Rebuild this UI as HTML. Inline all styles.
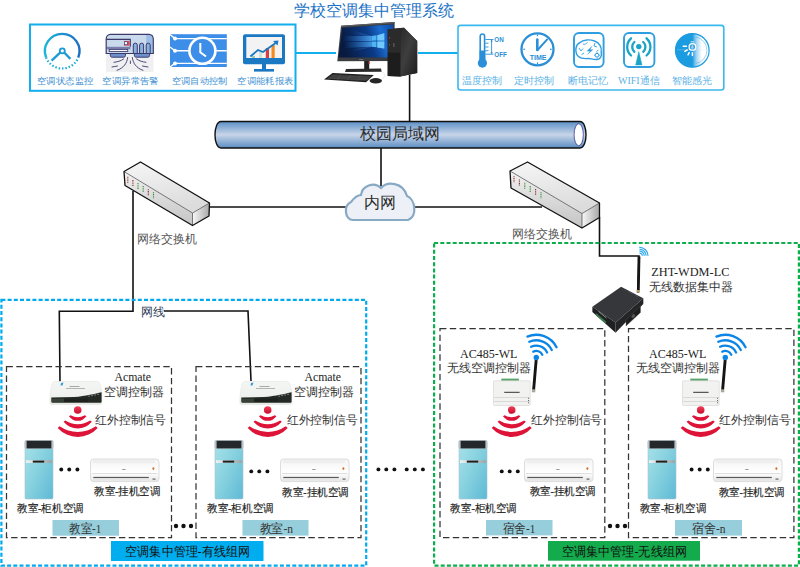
<!DOCTYPE html>
<html><head><meta charset="utf-8">
<style>
html,body{margin:0;padding:0;background:#fff;width:800px;height:567px;overflow:hidden}
svg{display:block}
text{font-family:"Liberation Serif",serif}
.s{font-family:"Liberation Sans",sans-serif}
</style></head><body>
<svg width="800" height="567" viewBox="0 0 800 567">
<defs>
<linearGradient id="pipe" x1="0" y1="0" x2="0" y2="1">
<stop offset="0" stop-color="#5b8fc7"/><stop offset="0.5" stop-color="#c8d5e8"/><stop offset="1" stop-color="#5a8cc3"/>
</linearGradient>
<linearGradient id="towerBody" x1="0" y1="0" x2="1" y2="0.9">
<stop offset="0" stop-color="#a9e2ea"/><stop offset="0.45" stop-color="#8ad3e0"/><stop offset="1" stop-color="#62bcd6"/>
</linearGradient>
<linearGradient id="strip" x1="0" y1="0" x2="1" y2="0">
<stop offset="0" stop-color="#eef4f4"/><stop offset="1" stop-color="#9aa4a8"/>
</linearGradient>
<linearGradient id="irg" x1="0" y1="0" x2="0" y2="1">
<stop offset="0" stop-color="#f0405a"/><stop offset="1" stop-color="#c80d2c"/>
</linearGradient>
<linearGradient id="wallac" x1="0" y1="0" x2="0" y2="1">
<stop offset="0" stop-color="#f4f4f4"/><stop offset="0.6" stop-color="#ffffff"/><stop offset="1" stop-color="#e6e6e6"/>
</linearGradient>
<g id="room">
 <!-- tower AC -->
 <rect x="25" y="440.5" width="28" height="58.5" rx="1.2" fill="url(#towerBody)" stroke="#a8c4cc" stroke-width="0.6"/>
 <rect x="24.6" y="440.2" width="28.8" height="8.6" rx="1.6" fill="#b9c2c6"/>
 <rect x="26.6" y="440.8" width="24.8" height="7.6" fill="#25282b"/>
 <rect x="26" y="460.2" width="26" height="2.8" fill="url(#strip)"/>
 <rect x="32.8" y="460.6" width="11.4" height="2" fill="#1e1e1e"/>
 <!-- wall AC -->
 <rect x="90.5" y="459" width="68.5" height="22.6" rx="3" fill="url(#wallac)" stroke="#d6d6d6" stroke-width="0.8"/>
 <rect x="93" y="460" width="62" height="3.2" fill="#eeeeee"/>
 <line x1="92" y1="473.5" x2="157.5" y2="473.5" stroke="#d2d2d2" stroke-width="0.7"/>
 <rect x="93.3" y="476.9" width="55.5" height="1.2" fill="#5a5a5a"/>
 <rect x="93.3" y="478.1" width="55.5" height="1.5" fill="#e2e2e2"/>
 <rect x="122.3" y="469.1" width="3.2" height="0.9" fill="#8a8a9a"/>
 <ellipse cx="153.4" cy="468.6" rx="1" ry="1.4" fill="#d0702a"/>
 <rect x="152.5" y="478.4" width="3" height="1.4" fill="#777"/>
 <!-- IR signal -->
 <circle cx="77.7" cy="410" r="3.8" fill="url(#irg)"/>
 <g fill="#dd1437">
  <path d="M68.96,416.35 A10.80,10.80 0 0 0 86.44,416.35 L84.82,415.17 A14.78,14.78 0 0 1 70.58,415.17 Z"/>
  <path d="M63.57,421.86 A18.45,18.45 0 0 0 91.83,421.86 L90.15,420.45 A22.77,22.77 0 0 1 65.25,420.45 Z"/>
  <path d="M57.71,428.00 A26.90,26.90 0 0 0 97.69,428.00 L95.83,426.33 A32.28,32.28 0 0 1 59.57,426.33 Z"/>
 </g>
</g>
<g id="router">
 <path d="M54.2,381.5 L97.6,381.5 C99.8,381.5 101.6,389 101.9,392.5 L101.9,402.6 C101.9,404 101.2,404.6 99.8,404.6 L52,404.6 C50.6,404.6 49.8,403.8 49.8,402.3 L49.9,397 C50.5,390 52,381.5 54.2,381.5 Z" fill="url(#rtop)" stroke="#dfe3df" stroke-width="0.5"/>
 <path d="M51.3,397.6 L74,397.1 C86,396 95,393.6 101.6,392.2 L101.6,401.4 C101.6,402.3 101,402.7 100.2,402.7 L52.3,402.7 C51.6,402.7 51.3,402.2 51.3,401.6 Z" fill="#252a25"/>
 <rect x="52" y="398.8" width="12" height="3.2" fill="#3b463b" opacity="0.8"/>
 <rect x="64.5" y="398.6" width="24" height="3.4" fill="#1e221e"/>
 <g fill="#ccc"><rect x="88.6" y="395.6" width="0.9" height="1.1"/><rect x="91.6" y="395" width="0.9" height="1.1"/><rect x="94.6" y="394.4" width="0.9" height="1.1"/><rect x="97.6" y="393.8" width="0.9" height="1.1"/></g>
 <rect x="69.5" y="386" width="10" height="0.7" fill="#888"/>
 <rect x="66" y="388" width="19" height="0.7" fill="#999"/>
 <path d="M61,383 L63.5,382.5 L62.5,385.5 L60.5,385.5 Z" fill="#3a9ad8"/>
</g>
<g id="ctrl">
 <rect x="501.3" y="378.6" width="17.6" height="2.4" fill="#5aa46a"/>
 <rect x="493.5" y="380.8" width="36.7" height="24.7" rx="1" fill="#f2f2f0" stroke="#d4d4d0" stroke-width="0.6"/>
 <line x1="494" y1="397.5" x2="530" y2="397.5" stroke="#cfcfcb" stroke-width="0.7"/>
 <line x1="494" y1="401.5" x2="530" y2="401.5" stroke="#cfcfcb" stroke-width="0.7"/>
 <rect x="504.2" y="391.8" width="15.4" height="1" fill="#333"/>
 <g fill="#666"><rect x="528" y="397.8" width="1" height="1"/><rect x="528" y="400" width="1" height="1"/><rect x="528" y="402.3" width="1" height="1"/></g>
 <line x1="536.2" y1="359.5" x2="533.6" y2="390" stroke="#151515" stroke-width="2.9"/>
 <rect x="531.9" y="389.3" width="3.4" height="3" fill="#a9a99a"/>
 <circle cx="536.3" cy="357.5" r="2.7" fill="#0b86e6"/>
 <g fill="none" stroke="#0b86e6" stroke-width="2.3" stroke-linecap="round">
  <path d="M533.20,351.67 A6.6,6.6 0 0 1 542.28,354.71"/><path d="M531.08,346.80 A11.9,11.9 0 0 1 547.09,352.47"/><path d="M529.30,341.79 A17.2,17.2 0 0 1 551.76,349.96"/><path d="M527.43,336.60 A22.7,22.7 0 0 1 556.53,347.19"/>
 </g>
 <text x="460" y="357.5" font-size="12" fill="#222">AC485-WL</text>
 <text x="447" y="372.4" font-size="11.8" fill="#333">无线空调控制器</text>
</g>
<linearGradient id="scr" x1="0" y1="0.2" x2="1" y2="0">
<stop offset="0" stop-color="#081a40"/><stop offset="0.5" stop-color="#0b3a86"/><stop offset="0.75" stop-color="#1a6cd0"/><stop offset="1" stop-color="#0d4aa8"/>
</linearGradient>
<linearGradient id="ray" x1="0" y1="0" x2="1" y2="0">
<stop offset="0" stop-color="#2a86e8" stop-opacity="0"/><stop offset="1" stop-color="#5ab8ff" stop-opacity="1"/>
</linearGradient>
<linearGradient id="side" x1="0" y1="0" x2="1" y2="1">
<stop offset="0" stop-color="#2a2a2a"/><stop offset="0.45" stop-color="#3e3e3e"/><stop offset="1" stop-color="#1c1c1c"/>
</linearGradient>
<radialGradient id="win" cx="0.75" cy="0.45" r="0.5">
<stop offset="0" stop-color="#8fd3ff"/><stop offset="0.5" stop-color="#2a8ae8"/><stop offset="1" stop-color="#0d4aa0" stop-opacity="0"/>
</radialGradient>
<linearGradient id="gauge" x1="0" y1="0" x2="1" y2="0">
<stop offset="0" stop-color="#19b5d8"/><stop offset="1" stop-color="#1d6fc4"/>
</linearGradient>
<linearGradient id="lightc" x1="0" y1="0" x2="1" y2="0">
<stop offset="0" stop-color="#1b9be0"/><stop offset="0.5" stop-color="#1b9be0"/><stop offset="0.62" stop-color="#9fd2f2"/><stop offset="0.78" stop-color="#ffffff"/><stop offset="1" stop-color="#ffffff"/>
</linearGradient>
<linearGradient id="swtop" x1="0" y1="0" x2="0.3" y2="1">
<stop offset="0" stop-color="#f6f6f6"/><stop offset="1" stop-color="#dcdcdc"/>
</linearGradient>
<linearGradient id="swfront" x1="0" y1="0" x2="0" y2="1">
<stop offset="0" stop-color="#f2f2f2"/><stop offset="0.4" stop-color="#dedede"/><stop offset="1" stop-color="#c4c4c4"/>
</linearGradient>
<linearGradient id="swright" x1="0" y1="0" x2="1" y2="0">
<stop offset="0" stop-color="#f8f8f8"/><stop offset="1" stop-color="#a8a8a8"/>
</linearGradient>
<linearGradient id="rtop" x1="0" y1="0" x2="0" y2="1">
<stop offset="0" stop-color="#f4f6f4"/><stop offset="0.6" stop-color="#eef1ee"/><stop offset="1" stop-color="#e4e7e4"/>
</linearGradient>
</defs>

<!-- ===== TITLE ===== -->
<text id="title" x="294" y="16.4" class="s" font-size="16" fill="#1b72c6">学校空调集中管理系统</text>

<!-- left feature box -->
<rect x="30" y="24.5" width="265.5" height="66.3" fill="none" stroke="#12aeee" stroke-width="2"/>
<line x1="296" y1="53" x2="336" y2="53" stroke="#12aeee" stroke-width="2"/>
<line x1="418" y1="53" x2="458" y2="53" stroke="#12aeee" stroke-width="2"/>
<!-- right feature box -->
<rect x="458" y="25.4" width="265.8" height="64.6" rx="2.5" fill="none" stroke="#3ab8f0" stroke-width="1.6"/>

<!-- black lines -->
<g stroke="#111" stroke-width="1.6" fill="none">
<line x1="409.6" y1="75" x2="409.6" y2="121"/>
<line x1="381" y1="148" x2="381" y2="186"/>
<line x1="209" y1="207" x2="346" y2="207"/>
<line x1="414" y1="207" x2="542" y2="207"/>
<polyline points="133,191 133,311.3 59.3,311.3 60,381.5"/>
<polyline points="164,311 248,311 251,381"/>
<polyline points="599.5,217 599.5,256 639,256 638,293"/>
</g>

<!-- pipe -->
<path d="M221,121.5 L580,121.5 C588,121.5 588,148 580,148 L221,148 C213,148 213,121.5 221,121.5 Z" fill="url(#pipe)" stroke="#111" stroke-width="1.4"/>
<ellipse cx="578.7" cy="134.7" rx="4.6" ry="11" fill="#fff" stroke="#3a3a8a" stroke-width="0.8"/>
<text x="360" y="139" class="s" font-size="16" fill="#2a2a2a">校园局域网</text>

<!-- cloud -->
<path d="M353,220 C345,220 343,206 351,202 C354,198 358,195 361,195 C362,186 374,181 381,188 C387,181 403,182 407,196 C415,199 418,216 408,220 Z" fill="#edf1f7" stroke="#88a9c4" stroke-width="2.2"/>
<text x="364" y="207.5" class="s" font-size="16" fill="#2a2a2a">内网</text>

<!-- switches -->
<path d="M124.0,171.5 L140.5,162.0 L209.5,203.0 L192.5,213.0 Z" fill="url(#swtop)"/>
<path d="M124.0,171.5 L192.5,213.0 L192.5,225.5 L125.0,185.5 Z" fill="url(#swfront)"/>
<path d="M192.5,213.0 L209.5,203.0 L209.0,216.0 L192.5,225.5 Z" fill="url(#swright)"/>
<path d="M124.0,171.5 L192.5,213.0 L209.5,203.0 M192.5,213.0 L192.5,225.5" fill="none" stroke="#444" stroke-width="0.7"/>
<path d="M124.0,171.5 L140.5,162.0 L209.5,203.0 L209.0,216.0 L192.5,225.5 L125.0,185.5 Z" fill="none" stroke="#111" stroke-width="1.3" stroke-linejoin="round"/>
<g stroke-width="1.1" stroke-dasharray="1 0.7">
<line x1="127.8" y1="176.8" x2="127.8" y2="182.8" stroke="#8a2626"/>
<line x1="132.9" y1="179.9" x2="132.9" y2="185.9" stroke="#8a2626"/>
<line x1="138.0" y1="183.0" x2="138.0" y2="189.0" stroke="#2e8a2e"/>
<line x1="143.2" y1="186.1" x2="143.2" y2="192.1" stroke="#2e8a2e"/>
<line x1="148.3" y1="189.2" x2="148.3" y2="195.2" stroke="#8a2626"/>
<line x1="153.5" y1="192.3" x2="153.5" y2="198.3" stroke="#2e8a2e"/>
</g>
<path d="M510.0,171.0 L527.5,162.0 L599.5,203.0 L582.0,213.5 Z" fill="url(#swtop)"/>
<path d="M510.0,171.0 L582.0,213.5 L582.0,228.0 L511.0,188.0 Z" fill="url(#swfront)"/>
<path d="M582.0,213.5 L599.5,203.0 L599.5,217.5 L582.0,228.0 Z" fill="url(#swright)"/>
<path d="M510.0,171.0 L582.0,213.5 L599.5,203.0 M582.0,213.5 L582.0,228.0" fill="none" stroke="#444" stroke-width="0.7"/>
<path d="M510.0,171.0 L527.5,162.0 L599.5,203.0 L599.5,217.5 L582.0,228.0 L511.0,188.0 Z" fill="none" stroke="#111" stroke-width="1.3" stroke-linejoin="round"/>
<g stroke-width="1.1" stroke-dasharray="1 0.7">
<line x1="514.0" y1="176.3" x2="514.0" y2="182.3" stroke="#8a2626"/>
<line x1="519.4" y1="179.5" x2="519.4" y2="185.5" stroke="#8a2626"/>
<line x1="524.8" y1="182.7" x2="524.8" y2="188.7" stroke="#2e8a2e"/>
<line x1="530.2" y1="185.9" x2="530.2" y2="191.9" stroke="#2e8a2e"/>
<line x1="535.6" y1="189.1" x2="535.6" y2="195.1" stroke="#8a2626"/>
<line x1="541.0" y1="192.3" x2="541.0" y2="198.3" stroke="#2e8a2e"/>
</g>
<text x="137" y="243" font-size="12" fill="#555">网络交换机</text>
<text x="512" y="238" font-size="12" fill="#555">网络交换机</text>

<!-- wired big box -->
<rect x="1.4" y="299.8" width="364.8" height="265.9" fill="none" stroke="#00aaee" stroke-width="2.2" stroke-dasharray="4 2.2"/>
<rect x="434.1" y="243" width="364.8" height="322.6" fill="none" stroke="#0cae4c" stroke-width="2.2" stroke-dasharray="4 2.2"/>
<!-- inner dashed boxes -->
<g fill="none" stroke="#333" stroke-width="1.25" stroke-dasharray="6.4 3.4">
<rect x="6.5" y="366.5" width="165" height="171"/>
<rect x="196" y="366.5" width="165" height="171"/>
<rect x="440" y="328.5" width="164.8" height="209"/>
<rect x="628.5" y="328.5" width="165.4" height="209"/>
</g>
<text x="141" y="315.5" font-size="12" fill="#2d3b55">网线</text>

<!-- bars -->
<rect x="111" y="541" width="152.5" height="20" fill="#00aeef"/>
<rect x="548" y="541" width="152" height="19.7" fill="#13ab4c"/>
<rect x="52.5" y="520" width="66.5" height="15.7" fill="#96cedc"/>
<rect x="242.5" y="520" width="66" height="15.6" fill="#96cedc"/>
<rect x="486" y="520" width="66.5" height="15.4" fill="#96cedc"/>
<rect x="675" y="520" width="67" height="15.6" fill="#96cedc"/>

<!-- rooms -->
<use href="#room"/>
<use href="#room" x="190"/>
<use href="#room" x="434"/>
<use href="#room" x="623"/>
<!-- room dots & labels -->
<g fill="#111">
<circle cx="61.25" cy="469.5" r="1.95"/><circle cx="69.25" cy="469.5" r="1.95"/><circle cx="77.4" cy="469.5" r="1.95"/>
<circle cx="251.25" cy="471.4" r="1.95"/><circle cx="259.25" cy="471.4" r="1.95"/><circle cx="267.4" cy="471.4" r="1.95"/>
<circle cx="501.75" cy="471.4" r="1.95"/><circle cx="509.7" cy="471.4" r="1.95"/><circle cx="517.8" cy="471.4" r="1.95"/>
<circle cx="691.6" cy="469.5" r="1.95"/><circle cx="699.7" cy="469.5" r="1.95"/><circle cx="707.8" cy="469.5" r="1.95"/>
</g>
<g font-size="12" fill="#333">
<text x="95.1" y="424" textLength="71" lengthAdjust="spacingAndGlyphs">红外控制信号</text>
<text x="286.9" y="424" textLength="70.5" lengthAdjust="spacingAndGlyphs">红外控制信号</text>
<text x="531.2" y="424" textLength="71" lengthAdjust="spacingAndGlyphs">红外控制信号</text>
<text x="719.2" y="424" textLength="71.2" lengthAdjust="spacingAndGlyphs">红外控制信号</text>
</g>
<g font-size="10.5" fill="#222" stroke="#222" stroke-width="0.15">
<text x="94" y="495.3" textLength="66.5" lengthAdjust="spacingAndGlyphs">教室-挂机空调</text>
<text x="282" y="495.8" textLength="67" lengthAdjust="spacingAndGlyphs">教室-挂机空调</text>
<text x="529.6" y="495.2" textLength="66.4" lengthAdjust="spacingAndGlyphs">教室-挂机空调</text>
<text x="718.6" y="496" textLength="66.4" lengthAdjust="spacingAndGlyphs">教室-挂机空调</text>
<text x="17" y="511.5" textLength="66.6" lengthAdjust="spacingAndGlyphs">教室-柜机空调</text>
<text x="207" y="511.5" textLength="66.6" lengthAdjust="spacingAndGlyphs">教室-柜机空调</text>
<text x="450.4" y="511.5" textLength="66.6" lengthAdjust="spacingAndGlyphs">教室-柜机空调</text>
<text x="640" y="511.5" textLength="66" lengthAdjust="spacingAndGlyphs">教室-柜机空调</text>
</g>

<!-- dots between -->
<g fill="#111">
<circle cx="176" cy="526" r="2.2"/><circle cx="183.5" cy="526" r="2.2"/><circle cx="191" cy="526" r="2.2"/>
<circle cx="610" cy="526" r="2.2"/><circle cx="617.5" cy="526" r="2.2"/><circle cx="625" cy="526" r="2.2"/>
<circle cx="378.4" cy="469.4" r="1.95"/><circle cx="386.3" cy="469.4" r="1.95"/><circle cx="394.4" cy="469.4" r="1.95"/>
<circle cx="406.7" cy="469.4" r="1.95"/><circle cx="414.8" cy="469.4" r="1.95"/><circle cx="422.9" cy="469.4" r="1.95"/>
</g>
<!-- bar labels -->
<text x="69" y="533" font-size="12.5" textLength="32.3" lengthAdjust="spacingAndGlyphs" fill="#333">教室-1</text>
<text x="259.5" y="533" font-size="12.5" textLength="33.5" lengthAdjust="spacingAndGlyphs" fill="#333">教室-n</text>
<text x="502.8" y="533" font-size="12.5" textLength="32.5" lengthAdjust="spacingAndGlyphs" fill="#333">宿舍-1</text>
<text x="692" y="533" font-size="12.5" textLength="33.5" lengthAdjust="spacingAndGlyphs" fill="#333">宿舍-n</text>
<text x="125.4" y="556" font-size="13" textLength="124.4" lengthAdjust="spacingAndGlyphs" fill="#111">空调集中管理-有线组网</text>
<text x="561.9" y="556" font-size="13" textLength="124.9" lengthAdjust="spacingAndGlyphs" fill="#111">空调集中管理-无线组网</text>

<!-- routers -->
<use href="#router"/>
<use href="#router" x="190"/>
<text x="114.4" y="381" font-size="11.8" fill="#222">Acmate</text>
<text x="103.6" y="396.4" font-size="11.8" fill="#333">空调控制器</text>
<text x="304.4" y="381" font-size="11.8" fill="#222">Acmate</text>
<text x="293.6" y="396.4" font-size="11.8" fill="#333">空调控制器</text>
<!-- wireless controllers -->
<use href="#ctrl"/>
<use href="#ctrl" x="189"/>
<!-- concentrator -->
<g>
 <line x1="639" y1="256.5" x2="638.3" y2="292" stroke="#151515" stroke-width="2.8"/>
 <rect x="636.6" y="290" width="3.4" height="2.6" fill="#b9a27a"/>
 <path d="M592.4,306.7 L621.1,286.7 L643.3,298.3 L615.6,322.5 Z" fill="#35373a"/>
 <path d="M592.4,306.7 L615.6,322.5 L615.6,332.8 L592.4,312 Z" fill="#1f2022"/>
 <path d="M615.6,322.5 L643.3,298.3 L643.3,304 L615.6,332.8 Z" fill="#242527"/>
 <path d="M626,320 L640.5,306 L640.5,312.5 L626,326 Z" fill="#1d1d1e" stroke="#555" stroke-width="0.4"/>
 <ellipse cx="633.3" cy="316" rx="2.2" ry="1.5" fill="#555" transform="rotate(-45 633.3 316)"/>
 <path d="M596,313 L606,321.6 L606,324 L596,315.4 Z" fill="#3d7a48"/>
 <path d="M598.5,311.5 L606.5,318 " stroke="#bbb" stroke-width="0.7"/>
 <path d="M628,291 L633,294 M635,295 L638,297" stroke="#666" stroke-width="0.5"/>
 <g fill="none" stroke="#2aa6ee" stroke-width="1.15">
  <path d="M639.51,253.10 A2.7,2.7 0 0 1 642.30,255.80"/><path d="M639.44,251.20 A4.6,4.6 0 0 1 644.20,255.80"/><path d="M639.37,249.30 A6.5,6.5 0 0 1 646.10,255.80"/><path d="M639.31,247.41 A8.4,8.4 0 0 1 648.00,255.80"/>
 </g>
</g>
<text x="651.25" y="276.2" font-size="12.3" fill="#222">ZHT-WDM-LC</text>
<text x="648.75" y="291.4" font-size="11.8" fill="#333">无线数据集中器</text>

<!-- computer -->
<g>
 <path d="M341,25.8 L394.6,22 L394.6,61 L337.3,61.3 Z" fill="#3b3d40"/>
 <path d="M341,25.8 L394.6,22 L394.6,23.2 L341,27 Z" fill="#5a5c5f"/>
 <path d="M342.3,27.8 L393,24.5 L393,57.5 L338.5,57.6 Z" fill="url(#scr)"/>
 <path d="M345,36 L371.5,36 L371.5,41 L343,41 Z" fill="url(#ray)" opacity="0.75"/>
 <path d="M346,42 L371.5,41.6 L371.5,46.8 L344,48 Z" fill="url(#ray)" opacity="0.7"/>
 <path d="M352,30 L371.5,36 L352,35 Z" fill="url(#ray)" opacity="0.35"/>
 <path d="M352,52 L371.5,46.8 L352,49 Z" fill="url(#ray)" opacity="0.35"/>
 <path d="M371.5,36 L376.5,35.3 L376.5,40.6 L371.5,40.8 Z M377.3,35.2 L384.3,33.2 L384.3,40.4 L377.3,40.6 Z M371.5,41.6 L376.5,41.5 L376.5,47.3 L371.5,46.8 Z M377.3,41.5 L384.3,41.4 L384.3,48.5 L377.3,47.4 Z" fill="#4db4f6"/>
 <path d="M377.3,35.2 L384.3,33.2 L384.3,40.4 L377.3,40.6 Z M377.3,41.5 L384.3,41.4 L384.3,48.5 L377.3,47.4 Z" fill="#7fd0ff" opacity="0.7"/>
 <rect x="359" y="59" width="4" height="0.9" fill="#777"/>
 <rect x="364.2" y="61" width="5" height="8" fill="#202020"/>
 <rect x="368.3" y="61.5" width="1.3" height="2.6" fill="#b02a2a"/>
 <path d="M346,69 L381,68.6 L381.7,71.8 L345,72 Z" fill="#2a2a2a"/>
 <path d="M324,79.5 L332.5,73 L373.8,75 L366,82.3 Z" fill="#1f1f1f"/>
 <path d="M327,78.8 L333.3,74.2 L371.6,75.9 L365.5,81 Z" fill="#3c3c3c" opacity="0.8"/>
 <g stroke="#777" stroke-width="0.35" opacity="0.8"><line x1="331" y1="75.6" x2="371" y2="77.2"/><line x1="329.5" y1="76.9" x2="369.6" y2="78.5"/><line x1="328" y1="78.2" x2="368" y2="79.8"/><line x1="341" y1="74.5" x2="337" y2="80"/><line x1="351" y1="74.9" x2="347" y2="80.4"/><line x1="361" y1="75.4" x2="357" y2="80.8"/></g>
 <ellipse cx="375.8" cy="80.8" rx="6.2" ry="2.7" fill="#262626"/>
 <path d="M382,72 C386,74 386,77 382,79" stroke="#ddd" stroke-width="0.6" fill="none"/>
 <path d="M387.7,29.6 L400.3,27.9 L404,27.8 L417.2,40.9 L417.2,73 L400.3,76.4 L387.7,75.9 Z" fill="#262626"/>
 <path d="M400.3,27.9 L404,27.8 L417.2,40.9 L417.2,73 L400.3,76.4 Z" fill="url(#side)"/>
 <path d="M387.7,29.6 L400.3,27.9 L400.3,52.7 L387.7,52.7 Z" fill="#2b2b2b"/>
 <path d="M387.7,52.7 L400.3,52.7 L400.3,76.4 L387.7,75.9 Z" fill="#1d1d1d"/>
 <rect x="389.2" y="37" width="0.9" height="1.6" fill="#c33"/>
 <rect x="393.5" y="43" width="0.8" height="4" fill="#777"/>
 <rect x="389" y="44" width="0.8" height="1.4" fill="#666"/>
</g>
<!-- ===== left icons ===== -->
<g>
 <!-- gauge -->
 <path d="M46.1,57.5 A17.3,17.3 0 1 1 78.3,57.5" fill="none" stroke="url(#gauge)" stroke-width="2.4"/>
 <path d="M46.1,57.5 A17.3,17.3 0 0 0 78.3,57.5" fill="none" stroke="#22b0d8" stroke-width="2.3" stroke-dasharray="1.5 1.9"/>
 <path d="M51.6,60.6 L60.4,52.3 M64.2,52.5 L70.4,58.9" stroke="#1c9bd6" stroke-width="2.3" fill="none"/>
 <circle cx="62.3" cy="50.8" r="2.5" fill="#fff" stroke="#1c9bd6" stroke-width="1.8"/>
 <!-- AC alarm -->
 <rect x="106" y="52" width="47.5" height="20" fill="#f0f0f2"/>
 <path d="M110.5,34.3 L149,34.3 C151.5,34.3 153.3,36.3 153.3,39 L153.3,53.5 L106.2,53.5 L106.2,39 C106.2,36.3 108,34.3 110.5,34.3 Z" fill="#c9daec"/>
 <rect x="146.2" y="34.8" width="6.6" height="18.4" fill="#9dbde5"/>
 <rect x="106.6" y="46.8" width="23.7" height="2.4" fill="#7b7fae"/>
 <path d="M106.2,39.4 L130.3,39.4 L130.3,46.8" fill="none" stroke="#3c3a6a" stroke-width="1.1"/>
 <rect x="109.2" y="49.4" width="18.5" height="2" fill="#fff" stroke="#3c3a6a" stroke-width="0.9"/>
 <rect x="124" y="40.9" width="5.6" height="4.8" fill="#d9485a"/>
 <rect x="124.4" y="41.8" width="2.9" height="2.9" fill="#fff" stroke="#3c3a6a" stroke-width="0.6"/>
 <g fill="#8ab0e0" stroke="#3c3a6a" stroke-width="1"><path d="M133.3,53.5 L133.3,45.1 A2,2 0 0 1 137.3,45.1 L137.3,53.5"/><path d="M139.6,53.5 L139.6,45.1 A2,2 0 0 1 143.6,45.1 L143.6,53.5"/><path d="M146.2,53.5 L146.2,45.1 A2,2 0 0 1 150.2,45.1 L150.2,53.5"/></g>
 <path d="M110.5,34.3 L149,34.3 C151.5,34.3 153.3,36.3 153.3,39 L153.3,53.5 L106.2,53.5 L106.2,39 C106.2,36.3 108,34.3 110.5,34.3 Z" fill="none" stroke="#3c3a6a" stroke-width="1.2"/>
 <path d="M110.3,53.5 L125.5,53.5 L125.5,55.5 C125.5,56.6 124.8,57.2 123.6,57.2 L112.2,57.2 C111,57.2 110.3,56.6 110.3,55.5 Z M134.4,53.5 L149.6,53.5 L149.6,55.5 C149.6,56.6 148.9,57.2 147.7,57.2 L136.3,57.2 C135.1,57.2 134.4,56.6 134.4,55.5 Z" fill="#6e90cc" stroke="#3c3a6a" stroke-width="1"/>
 <g stroke="#3c3a6a" stroke-width="0.9" fill="none" stroke-linecap="round">
  <path d="M123.6,59 C121,61 117,62 114,62.3"/><path d="M117.5,66 C116,66.3 114,66.7 112,67"/><path d="M127.7,57.5 C127,63 124,68 117,70.3"/><path d="M130.4,61 L130.4,63.5"/>
  <path d="M136.5,59 C139,61 143,62 146,62.3"/><path d="M142.5,66 C144,66.3 146,66.7 148,67"/><path d="M132.3,57.5 C133,63 136,68 143,70.3"/>
 </g>
 <!-- auto control -->
 <rect x="170" y="34.2" width="56.8" height="32.8" fill="#3d8ee8"/>
 <g stroke="#fff" stroke-width="1.4"><line x1="175" y1="38.6" x2="226.8" y2="38.6"/><line x1="175" y1="50.8" x2="226.8" y2="50.8"/><line x1="175" y1="63.4" x2="226.8" y2="63.4"/>
 <path d="M170,34.5 L175,38.6 M170,47 L175,50.8 M170,67 L175,63.4" /></g>
 <g fill="#fff"><circle cx="175" cy="38.6" r="2"/><circle cx="175" cy="50.8" r="2"/><circle cx="175" cy="63.4" r="2"/></g>
 <circle cx="202.4" cy="50.8" r="13" fill="#3d8ee8" stroke="#fff" stroke-width="2.6"/>
 <path d="M200.3,43 L200.3,52.2 L206,56.5" stroke="#fff" stroke-width="2" fill="none"/>
 <!-- report monitor -->
 <rect x="243" y="34.2" width="42" height="30" rx="2" fill="#1b78c2"/>
 <rect x="246.3" y="37" width="35.7" height="21" fill="#f3f3f3"/>
 <rect x="262" y="64" width="4" height="5" fill="#1b78c2"/>
 <rect x="254" y="69" width="20" height="2.6" fill="#1b78c2"/>
 <rect x="259" y="51.5" width="3" height="6.5" fill="#cfe3d6"/>
 <rect x="265.8" y="48" width="3.2" height="10" fill="#e03a3a"/>
 <rect x="271.5" y="45" width="3.2" height="13" fill="#f28a1e"/>
 <path d="M250.4,56.5 L258,50 L263,52 L277,42" stroke="#1b78c2" stroke-width="1.8" fill="none"/>
 <path d="M273,41 L278.5,40.5 L277.5,45.5 Z" fill="#1b78c2"/>
 <rect x="252" y="56" width="3" height="2" fill="#9ccab0"/>
</g>
<g font-size="9.4" fill="#3d90d2" class="s" lengthAdjust="spacingAndGlyphs">
 <text x="37" y="84.1" textLength="56.3" lengthAdjust="spacingAndGlyphs">空调状态监控</text>
 <text x="102.2" y="84.1" textLength="56.7" lengthAdjust="spacingAndGlyphs">空调异常告警</text>
 <text x="172" y="84.1" textLength="55.3" lengthAdjust="spacingAndGlyphs">空调自动控制</text>
 <text x="237.4" y="84.1" textLength="55.7" lengthAdjust="spacingAndGlyphs">空调能耗报表</text>
</g>
<!-- ===== right icons ===== -->
<g>
 <!-- thermometer -->
 <path d="M480.2,36.2 A2.2,2.2 0 0 1 484.6,36.2 L484.6,60 L480.2,60 Z" fill="#fff" stroke="#2a8fd6" stroke-width="1.6"/>
 <rect x="479.6" y="50.5" width="5.6" height="11" fill="#2a8fd6"/>
 <circle cx="482.4" cy="63.1" r="4.6" fill="#2a8fd6"/>
 <g stroke="#2a8fd6" stroke-width="0.9"><line x1="485.4" y1="39.5" x2="493.4" y2="39.5"/><line x1="485.4" y1="43.2" x2="488.5" y2="43.2"/><line x1="485.4" y1="47" x2="488.5" y2="47"/><line x1="485.4" y1="50.7" x2="488.5" y2="50.7"/><line x1="485.4" y1="54.2" x2="493.4" y2="54.2"/><line x1="491.6" y1="40" x2="491.6" y2="53.7"/></g>
 <path d="M490.4,41.5 L491.6,39.6 L492.8,41.5 Z M490.4,52.2 L491.6,54.1 L492.8,52.2 Z" fill="#2a8fd6"/>
 <text x="494.3" y="41.9" font-size="6.3" font-weight="bold" fill="#2a8fd6" class="s">ON</text>
 <text x="494.3" y="56.8" font-size="6.3" font-weight="bold" fill="#2a8fd6" class="s">OFF</text>
 <!-- clock TIME -->
 <circle cx="537.5" cy="49.3" r="16" fill="#fff" stroke="#2a8fd6" stroke-width="2.3"/>
 <path d="M537.3,39.6 L537.3,50" stroke="#2a8fd6" stroke-width="2.6" stroke-linecap="round" fill="none"/>
 <path d="M537.6,50 L547.2,39.4" stroke="#2a8fd6" stroke-width="1.9" stroke-linecap="round" fill="none"/>
 <g fill="#2a8fd6"><rect x="536.9" y="34.6" width="1.2" height="1.6"/><rect x="536.9" y="62.4" width="1.2" height="1.6"/><rect x="523.4" y="48.7" width="1.6" height="1.2"/><rect x="550" y="48.7" width="1.6" height="1.2"/></g>
 <text x="538.1" y="60" font-size="7.9" font-weight="bold" fill="#2a8fd6" class="s" text-anchor="middle" textLength="16.8" lengthAdjust="spacingAndGlyphs">TIME</text>
 <!-- brain -->
 <rect x="574" y="33" width="29.6" height="34" rx="5" fill="#fff" stroke="#2f9ee0" stroke-width="1.9"/>
 <path d="M578.5,56.5 C574.5,53 575,45 580,42.5 C583,39.5 590,39.2 594.5,41 C599.5,42.5 602,47.5 601.2,52 C602,56 600.5,59.3 597,59.5 C593,59.8 590.5,58.3 588,58.5 C584,58.8 580.5,58.3 578.5,56.5 Z" fill="none" stroke="#2f9ee0" stroke-width="1.4"/>
 <path d="M579,48 L581,51 L583,48.5 M583,44 C585,45 586,43.5 587.5,42.5 M595,43 L594,46 L597,47 M581.5,54.5 L584,53 M596.5,51.5 L598.5,50" fill="none" stroke="#2f9ee0" stroke-width="0.9"/>
 <path d="M592.8,45.2 L586.6,51.3 L589.8,51.3 L586.8,55.2 L593.4,49.4 L590.2,49.4 Z" fill="#2f9ee0"/>
 <circle cx="597" cy="55.2" r="1.9" fill="none" stroke="#2f9ee0" stroke-width="1"/>
 <path d="M597,52 L597,53 M597,57.4 L597,58.4 M594,55.2 L595,55.2 M599,55.2 L600,55.2" stroke="#2f9ee0" stroke-width="0.8"/>
 <!-- wifi -->
 <rect x="624" y="33" width="30.4" height="34" rx="5" fill="#fff" stroke="#2f9ee0" stroke-width="1.9"/>
 <circle cx="638.8" cy="46.6" r="2.7" fill="#1aa3c8"/>
 <path d="M638.8,51.8 L641.9,64.9 L635.7,64.9 Z" fill="#1aa3c8" stroke="#1aa3c8" stroke-width="0.6" stroke-linejoin="round"/>
 <g fill="none" stroke="#1aa3c8" stroke-width="2.3" stroke-linecap="round">
  <path d="M634.38,42.00 A6.6,6.6 0 0 0 634.38,51.80"/><path d="M643.22,42.00 A6.6,6.6 0 0 1 643.22,51.80"/><path d="M631.04,38.28 A11.6,11.6 0 0 0 631.04,55.52"/><path d="M646.56,38.28 A11.6,11.6 0 0 1 646.56,55.52"/>
 </g>
 <!-- light -->
 <circle cx="692.3" cy="50.4" r="16.8" fill="url(#lightc)" stroke="#1b9be0" stroke-width="1.2"/>
 <path d="M696,37 A13.5,13.5 0 0 1 696,63.5" stroke="#3aa8e6" stroke-width="0.7" fill="none" opacity="0.7"/>
 <line x1="677" y1="49.8" x2="708" y2="49.8" stroke="#cfe9f8" stroke-width="0.5" opacity="0.6"/>
 <path d="M690.6,41.8 L694.2,41.8" stroke="#fff" stroke-width="1" opacity="0.8"/>
 <circle cx="692.4" cy="46.9" r="3.3" fill="#3aa0e0" stroke="#fff" stroke-width="1.3"/>
 <path d="M692.4,44.4 C691,46.5 690.8,48.8 692.4,48.8 C694,48.8 693.8,46.5 692.4,44.4 Z" fill="#e8f4fc" opacity="0.6"/>
 <g stroke="#fff" stroke-width="1.5" stroke-linecap="round"><line x1="683.2" y1="46.3" x2="686.4" y2="46.3"/><line x1="684.8" y1="51.3" x2="687.2" y2="50"/><line x1="688" y1="54.8" x2="689.2" y2="52.6"/><line x1="692.4" y1="55.6" x2="692.4" y2="52.8"/></g>
</g>
<g font-size="10" fill="#5cb2e6" class="s">
 <text x="461.9" y="84">温度控制</text>
 <text x="514" y="84">定时控制</text>
 <text x="568" y="84">断电记忆</text>
 <text x="618" y="84">WIFI通信</text>
 <text x="672" y="84">智能感光</text>
</g>
</svg>
</body></html>
